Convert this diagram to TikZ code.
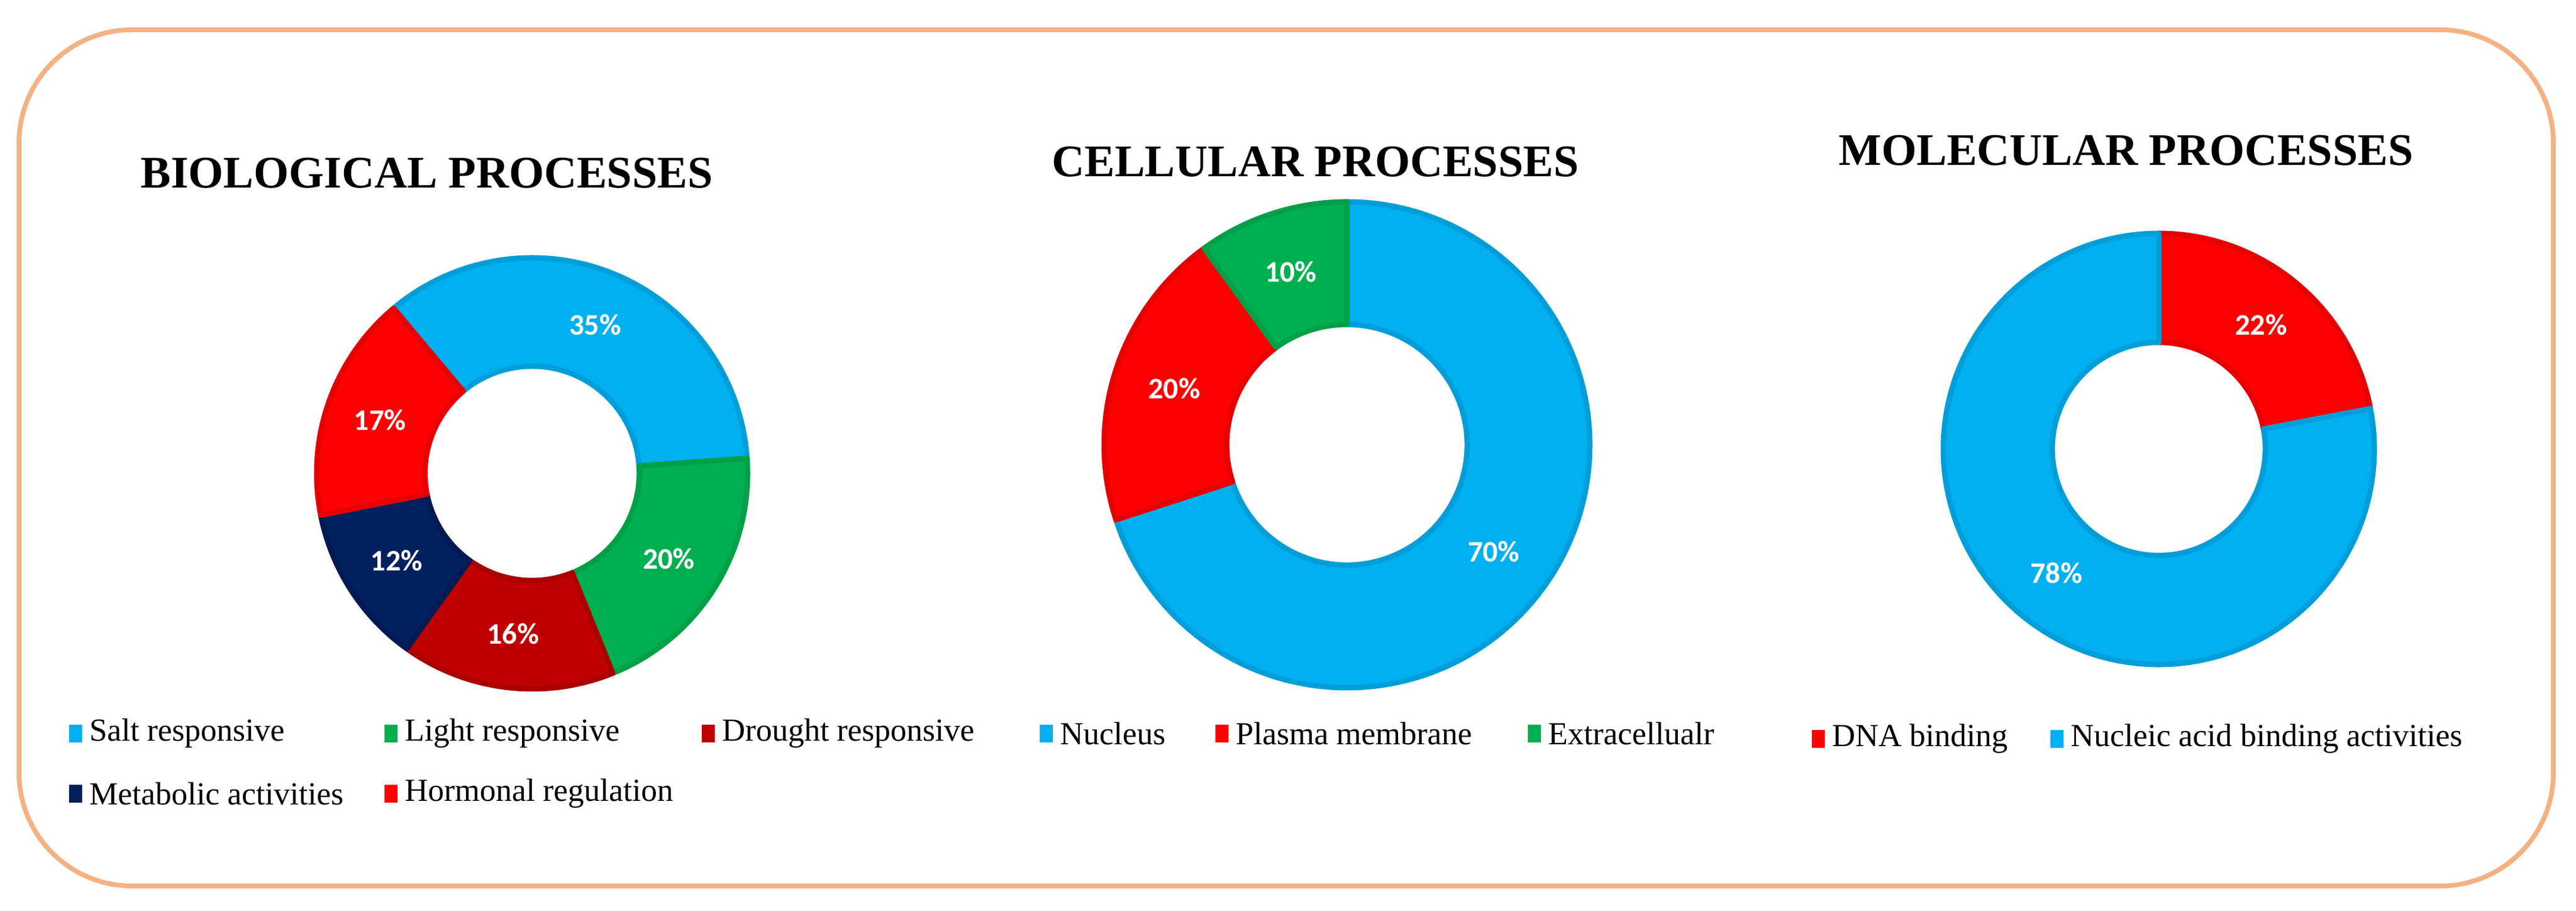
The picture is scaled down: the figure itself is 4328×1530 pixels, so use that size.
\documentclass[tikz,border=0pt]{standalone}
\usepackage{fontspec}
\setmainfont{Liberation Serif}
\newfontfamily\pctfont{Carlito}
\definecolor{cBlue}{HTML}{00B0F0}\definecolor{cBlueD}{HTML}{009ED8}
\definecolor{cGreen}{HTML}{00B050}\definecolor{cGreenD}{HTML}{00A046}
\definecolor{cDRed}{HTML}{C00000}\definecolor{cDRedD}{HTML}{AA0000}
\definecolor{cNavy}{HTML}{002060}\definecolor{cNavyD}{HTML}{001A52}
\definecolor{cRed}{HTML}{FF0000}\definecolor{cRedD}{HTML}{E60000}
\definecolor{cBorder}{HTML}{F4B183}
\newcommand\myslice[8]{% cx cy rin rout start end fill draw
  \filldraw[fill=#7,draw=#8,line width=9pt,line join=round,shift={(#1,#2)}]
    (#5:#4) arc[start angle=#5,end angle=#6,radius=#4] -- (#6:#3)
    arc[start angle=#6,end angle=#5,radius=#3] -- cycle;}
\tikzset{
  ttl/.style={font=\fontsize{76}{80}\selectfont\bfseries},
  pct/.style={text=white,font=\pctfont\fontsize{50}{54}\selectfont\bfseries},
  leg/.style={anchor=west,font=\fontsize{54}{58}\selectfont,inner sep=0pt},
  mk/.style={minimum width=22pt,minimum height=30pt,inner sep=0pt,anchor=west}
}
\begin{document}
\begin{tikzpicture}[x=1pt,y=1pt]
\useasboundingbox (0,0) rectangle (4328,1530);
\draw[cBorder,line width=8pt,rounded corners=190pt] (32,42) rectangle (4290,1480);
% titles
\node[ttl] (t1) at (717,1239) {BIOLOGICAL PROCESSES};
\node[ttl] (t2) at (2210,1258) {CELLULAR PROCESSES};
\node[ttl] (t3) at (3572,1277) {MOLECULAR PROCESSES};
% chart 1
\myslice{894}{735}{180}{362}{130}{4}{cBlue}{cBlueD}
\myslice{894}{735}{180}{362}{4}{-68}{cGreen}{cGreenD}
\myslice{894}{735}{180}{362}{-68}{-125.6}{cDRed}{cDRedD}
\myslice{894}{735}{180}{362}{-125.6}{-168.8}{cNavy}{cNavyD}
\myslice{894}{735}{180}{362}{-168.8}{-230}{cRed}{cRedD}
\node[pct] (p1a) at ([shift={(67:271)}]894,735) {35\%};
\node[pct] (p1b) at ([shift={(-32:271)}]894,735) {20\%};
\node[pct] (p1c) at ([shift={(-96.8:271)}]894,735) {16\%};
\node[pct] (p1d) at ([shift={(-147.2:271)}]894,735) {12\%};
\node[pct] (p1e) at ([shift={(160.6:271)}]894,735) {17\%};
% chart 2
\myslice{2263}{783}{202}{408}{90}{-162}{cBlue}{cBlueD}
\myslice{2263}{783}{202}{408}{-162}{-234}{cRed}{cRedD}
\myslice{2263}{783}{202}{408}{-234}{-270}{cGreen}{cGreenD}
\node[pct] (p2a) at ([shift={(-36:305)}]2263,783) {70\%};
\node[pct] (p2b) at ([shift={(162:305)}]2263,783) {20\%};
\node[pct] (p2c) at ([shift={(108:305)}]2263,783) {10\%};
% chart 3
\myslice{3627}{776}{179}{362}{90}{10.8}{cRed}{cRedD}
\myslice{3627}{776}{179}{362}{10.8}{-270}{cBlue}{cBlueD}
\node[pct] (p3a) at ([shift={(50.4:270)}]3627,776) {22\%};
\node[pct] (p3b) at ([shift={(230.4:270)}]3627,776) {78\%};
% legends
\node[mk,fill=cBlue] (m1) at (116,298) {}; \node[leg] (l1) at (150,298) {Salt responsive};
\node[mk,fill=cGreen] (m2) at (646,298) {}; \node[leg] (l2) at (680,298) {Light responsive};
\node[mk,fill=cDRed] (m3) at (1179,298) {}; \node[leg] (l3) at (1213,298) {Drought responsive};
\node[mk,fill=cBlue] (m4) at (1747,298) {}; \node[leg] (l4) at (1781,298) {Nucleus};
\node[mk,fill=cRed] (m5) at (2042,298) {}; \node[leg] (l5) at (2076,298) {Plasma membrane};
\node[mk,fill=cGreen] (m6) at (2567,298) {}; \node[leg] (l6) at (2601,298) {Extracellualr};
\node[mk,fill=cRed] (m7) at (3044,289) {}; \node[leg] (l7) at (3078,289) {DNA binding};
\node[mk,fill=cBlue] (m8) at (3445,289) {}; \node[leg] (l8) at (3479,289) {Nucleic acid binding activities};
\node[mk,fill=cNavy] (m9) at (116,197) {}; \node[leg] (l9) at (150,197) {Metabolic activities};
\node[mk,fill=cRed] (m10) at (646,197) {}; \node[leg] (l10) at (680,197) {Hormonal regulation};
\end{tikzpicture}
\end{document}
